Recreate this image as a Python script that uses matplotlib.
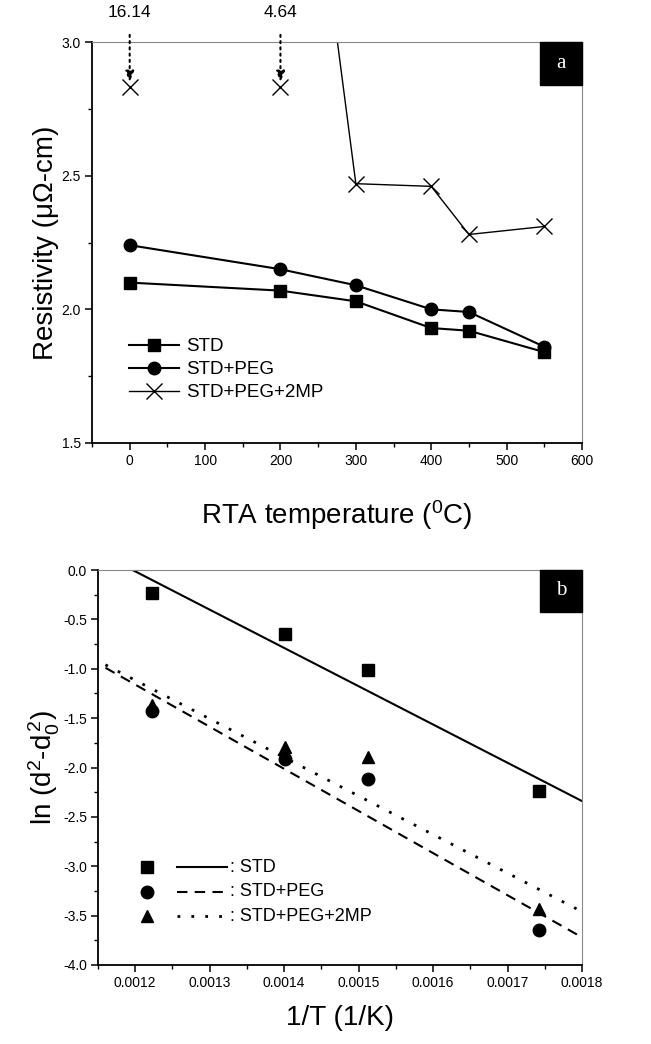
import matplotlib
matplotlib.use("Agg")
import matplotlib.pyplot as plt
from matplotlib.patches import Rectangle
from matplotlib.ticker import MultipleLocator, FormatStrFormatter

plt.rcParams['font.family'] = ['Liberation Sans', 'DejaVu Sans']
plt.rcParams['mathtext.fontset'] = 'custom'
plt.rcParams['mathtext.rm'] = 'Liberation Sans'

# ---------------- data: panel a ----------------
rta_temp = [0, 200, 300, 400, 450, 550]
res_std = [2.10, 2.07, 2.03, 1.93, 1.92, 1.84]
res_peg = [2.24, 2.15, 2.09, 2.00, 1.99, 1.86]
res_2mp = [16.14, 4.64, 2.47, 2.46, 2.28, 2.31]

# ---------------- data: panel b ----------------
inv_T = [0.001222, 0.001401, 0.001512, 0.001742]
ln_std = [-0.23, -0.65, -1.01, -2.24]
ln_peg = [-1.43, -1.91, -2.12, -3.65]
ln_2mp = [-1.37, -1.79, -1.89, -3.43]
fit_x_std = [0.00115, 0.0018]
fit_std = [0.18, -2.34]
fit_x_peg = [0.00116, 0.0018]
fit_peg = [-0.99, -3.72]
fit_x_2mp = [0.00116, 0.0018]
fit_2mp = [-0.96, -3.46]

labels_a = ['STD', 'STD+PEG', 'STD+PEG+2MP']
labels_b = [': STD', ': STD+PEG', ': STD+PEG+2MP']

W, H = 651, 1044
fig = plt.figure(figsize=(W / 100, H / 100), dpi=100)
ax1 = fig.add_axes([92 / W, 1 - 443 / H, 490 / W, 401 / H])
ax2 = fig.add_axes([98 / W, 1 - 965 / H, 484 / W, 395 / H])


def style_axes(ax):
    for s in ['left', 'bottom']:
        ax.spines[s].set_linewidth(1.3)
        ax.spines[s].set_color('black')
    for s in ['top', 'right']:
        ax.spines[s].set_linewidth(0.8)
        ax.spines[s].set_color('#888888')
    ax.tick_params(which='major', direction='out', length=5, width=1.1,
                   labelsize=10, pad=3, top=False, right=False)
    ax.tick_params(which='minor', direction='out', length=3, width=1.0,
                   top=False, right=False)


# ---------------- panel a ----------------
ax = ax1
ax.plot(rta_temp, res_std, '-s', color='black', lw=1.5, ms=8, label=labels_a[0])
ax.plot(rta_temp, res_peg, '-o', color='black', lw=1.5, ms=9, label=labels_a[1])
ax.plot(rta_temp, res_2mp, '-', color='black', lw=1.0)
ymax_a = 3.0
on_x = [t for t, v in zip(rta_temp, res_2mp) if v <= ymax_a]
on_y = [v for v in res_2mp if v <= ymax_a]
ax.plot(on_x, on_y, 'x', color='black', ms=11, mew=1.0)
ax.plot([], [], '-x', color='black', lw=1.0, ms=11, mew=1.0, label=labels_a[2])

# off-scale values: markers at the top with dotted arrows and value text
off_marker_y = 2.83
for t, v in zip(rta_temp, res_2mp):
    if v > ymax_a:
        ax.plot([t], [off_marker_y], 'x', color='black', ms=11, mew=1.0, clip_on=False)
        ax.annotate('%.2f' % v, xy=(t, 2.85), xytext=(t, 3.112),
                    ha='center', va='center', fontsize=12.5,
                    annotation_clip=False,
                    arrowprops=dict(arrowstyle='-|>,head_length=0.5,head_width=0.2',
                                    linestyle=(0, (1, 2)), lw=1.5, color='black',
                                    shrinkA=9, shrinkB=0))

ax.set_xlim(-50, 600)
ax.set_ylim(1.5, 3.0)
ax.xaxis.set_major_locator(MultipleLocator(100))
ax.xaxis.set_minor_locator(MultipleLocator(50))
ax.yaxis.set_major_locator(MultipleLocator(0.5))
ax.yaxis.set_minor_locator(MultipleLocator(0.25))
ax.yaxis.set_major_formatter(FormatStrFormatter('%.1f'))
style_axes(ax)
ax.set_xlabel('RTA temperature ($\\mathregular{^0}$C)', fontsize=20, labelpad=22)
ax.set_ylabel('Resistivity (\u03bc\u03a9-cm)', fontsize=20, labelpad=2)
ax.legend(loc='upper left', bbox_to_anchor=(0.075, 0.262), frameon=False,
          fontsize=13.5, handlelength=2.7, handletextpad=0.35, labelspacing=0.32,
          borderpad=0, borderaxespad=0)
ax.add_patch(Rectangle((0.914, 0.893), 0.086, 0.107, transform=ax.transAxes,
                       facecolor='black', edgecolor='black', zorder=5, clip_on=False))
ax.text(0.957, 0.9465, 'a', transform=ax.transAxes, color='white', ha='center',
        va='center', fontsize=15, family='Liberation Serif', zorder=6)

# ---------------- panel b ----------------
ax = ax2
ax.plot(inv_T, ln_std, 's', color='black', ms=8, ls='none')
ax.plot(inv_T, ln_peg, 'o', color='black', ms=9, ls='none')
ax.plot(inv_T, ln_2mp, '^', color='black', ms=9, ls='none')
ax.plot(fit_x_std, fit_std, '-', color='black', lw=1.5)
ax.plot(fit_x_peg, fit_peg, color='black', lw=1.5, ls=(0, (5, 3.5)))
ax.plot(fit_x_2mp, fit_2mp, color='black', lw=2.0, ls=(0, (1, 4)))
ax.set_xlim(0.00115, 0.0018)
ax.set_ylim(-4.0, 0.0)
ax.xaxis.set_major_locator(MultipleLocator(0.0001))
ax.xaxis.set_minor_locator(MultipleLocator(0.00005))
ax.xaxis.set_major_formatter(FormatStrFormatter('%.4f'))
ax.yaxis.set_major_locator(MultipleLocator(0.5))
ax.yaxis.set_minor_locator(MultipleLocator(0.25))
ax.yaxis.set_major_formatter(FormatStrFormatter('%.1f'))
style_axes(ax)
ax.set_xlabel('1/T (1/K)', fontsize=20, labelpad=11)
ax.set_ylabel('ln ($\\mathregular{d^2}$-$\\mathregular{d_0^{\\,2}}$)', fontsize=20, labelpad=1)

# manual legend (marker, line, label)
rows_y = [0.248, 0.186, 0.124]
mk = [('s', 8), ('o', 9), ('^', 9)]
ls_b = [dict(ls='-', lw=1.5), dict(ls=(0, (5, 3.5)), lw=1.5), dict(ls=(0, (1, 4)), lw=2.0)]
for yy, (m, s), lsd, lab in zip(rows_y, mk, ls_b, labels_b):
    ax.plot([0.101], [yy], m, color='black', ms=s, transform=ax.transAxes)
    ax.plot([0.163, 0.266], [yy, yy], color='black', transform=ax.transAxes, **lsd)
    ax.text(0.272, yy, lab, transform=ax.transAxes, va='center', ha='left', fontsize=13)

ax.add_patch(Rectangle((0.913, 0.894), 0.087, 0.106, transform=ax.transAxes,
                       facecolor='black', edgecolor='black', zorder=5, clip_on=False))
ax.text(0.9565, 0.947, 'b', transform=ax.transAxes, color='white', ha='center',
        va='center', fontsize=15, family='Liberation Serif', zorder=6)

fig.savefig('out.png', dpi=100)
